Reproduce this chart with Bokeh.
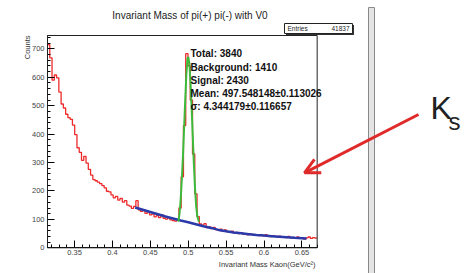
import numpy as np
from bokeh.plotting import figure
from bokeh.models import (Label, Arrow, OpenHead, BoxAnnotation, SingleIntervalTicker,
                          CustomJSTickFormatter)
from bokeh.embed import file_html
from bokeh.resources import INLINE

# ---------------- data ----------------
bin_lo = 0.3144
bin_w = 0.002988
counts = [715, 668, 590, 608, 598, 548, 506, 492, 470, 458,
          452, 432, 398, 352, 336, 308, 322, 298, 276, 256,
          240, 236, 231, 226, 219, 211, 199, 197, 186, 176,
          181, 168, 174, 161, 166, 150, 147, 139, 146, 166,
          134, 128, 133, 121, 126, 116, 119, 109, 113, 106,
          116, 104, 101, 106, 98, 96, 94, 100, 140, 250,
          430, 683, 640, 520, 330, 190, 110, 84, 80, 85,
          71, 74, 68, 72, 64, 61, 66, 58, 63, 57,
          55, 59, 52, 54, 50, 53, 48, 50, 46, 49,
          47, 44, 46, 43, 45, 42, 46, 41, 39, 43,
          40, 38, 41, 37, 39, 36, 40, 35, 37, 34,
          38, 33, 36, 31, 35, 38, 33, 36, 34]

# background fit (blue)
bg_x = [0.430, 0.440, 0.450, 0.460, 0.470, 0.480, 0.490, 0.500, 0.510, 0.520,
        0.530, 0.540, 0.550, 0.560, 0.570, 0.580, 0.590, 0.600, 0.610, 0.620,
        0.630, 0.640, 0.650, 0.656]
bg_y = [142, 134, 126, 118, 110, 103, 96, 90, 83, 76,
        70, 63, 58, 54, 51, 48, 45, 43, 41, 39,
        37, 35, 34, 33]

# signal + background fit (green)
sig_x = [0.4870, 0.4885, 0.4900, 0.4915, 0.4930, 0.4945, 0.4960, 0.4975, 0.4990, 0.5000,
         0.5015, 0.5030, 0.5045, 0.5060, 0.5075, 0.5090, 0.5105, 0.5120, 0.5140]
sig_y = [92, 120, 170, 240, 320, 420, 520, 610, 665, 672,
         650, 580, 490, 390, 290, 205, 145, 110, 92]

x_lo, x_hi = 0.3144, 0.6700   # histogram axis range
y_lo, y_hi = 0, 747

title_text = "Invariant Mass of pi(+) pi(-) with V0"
stats_lines = ["Total: 3840", "Background: 1410", "Signal: 2430",
               "Mean: 497.548148\u00b10.113026", "\u03c3: 4.344179\u00b10.116657"]
entries_label = "Entries"
entries_value = "41837"
x_title = "Invariant Mass Kaon(GeV/c\u00b2)"
y_title = "Counts"

# ---------------- figure: frame covers the whole canvas ----------------
W, H = 466, 273
p = figure(width=W, height=H, output_backend="svg", toolbar_location=None,
           x_range=(0.25241, 0.86694), y_range=(-90.4, 870.2),
           min_border=0)
p.background_fill_color = "white"
p.border_fill_color = "white"
p.outline_line_color = None
p.xgrid.visible = False
p.ygrid.visible = False

FONT = "Liberation Sans"

p.xaxis.fixed_location = y_lo
p.yaxis.fixed_location = x_lo
p.xaxis.bounds = (x_lo, x_hi)
p.yaxis.bounds = (y_lo, y_hi)
p.xaxis.ticker = SingleIntervalTicker(interval=0.05, num_minor_ticks=5)
p.yaxis.ticker = SingleIntervalTicker(interval=100, num_minor_ticks=5)
p.xaxis.formatter = CustomJSTickFormatter(code="return parseFloat(tick.toFixed(3)).toString();")
for ax in (p.xaxis, p.yaxis):
    ax.axis_line_color = "black"
    ax.major_tick_line_color = "black"
    ax.minor_tick_line_color = "black"
    ax.major_tick_in = 7
    ax.major_tick_out = 0
    ax.minor_tick_in = 3
    ax.minor_tick_out = 0
    ax.major_label_text_font = FONT
    ax.major_label_text_font_size = "7.5px"
    ax.major_label_text_color = "#444444"
p.xaxis.major_label_standoff = 2
p.yaxis.major_label_standoff = 3

# frame (top and right edges)
p.add_layout(BoxAnnotation(left=x_lo, right=x_hi, bottom=y_lo, top=y_hi,
                           fill_alpha=0, line_color="#222222", line_width=1, line_alpha=1))

# histogram (red step)
edges = bin_lo + bin_w * np.arange(len(counts) + 1)
p.step(x=edges, y=list(counts) + [counts[-1]], mode="after",
       line_color="#ee2a2a", line_width=1.3)
# fits
p.line(bg_x, bg_y, line_color="#2a3aa8", line_width=2.5)
p.line(sig_x, sig_y, line_color="#3cba3c", line_width=2)

# ---------------- annotations (screen units: x from left, y from bottom) ----------------
def lab(text, x, y, size, align="left", baseline="middle", style="normal", color="#222222", angle=0):
    p.add_layout(Label(x=x, y=y, x_units="screen", y_units="screen", text=text,
                       text_font=FONT, text_font_size=size, text_align=align,
                       text_baseline=baseline, text_font_style=style, text_color=color,
                       angle=angle))

lab(title_text, 189.5, 258, "10px", align="center")
stat_y = [220, 206.5, 193.2, 179.9, 166.6]
for t, yy in zip(stats_lines, stat_y):
    lab(t, 190, yy, "10px", style="bold", color="#111111")

# Entries box (with shadow)
p.add_layout(BoxAnnotation(left=285.5, right=353.5, bottom=238.5, top=248.5,
                           left_units="screen", right_units="screen",
                           bottom_units="screen", top_units="screen",
                           fill_color="#333333", fill_alpha=1, line_alpha=0))
p.add_layout(BoxAnnotation(left=284, right=352, bottom=240, top=250,
                           left_units="screen", right_units="screen",
                           bottom_units="screen", top_units="screen",
                           fill_color="white", fill_alpha=1, line_color="#222222",
                           line_width=1, line_alpha=1))
lab(entries_label, 287, 245, "6.5px")
lab(entries_value, 349, 245, "6.5px", align="right")

lab(y_title, 26.5, 238, "7.5px", align="right", color="#333333", angle=np.pi / 2)
lab(x_title, 315, 9.5, "7.5px", align="right", color="#333333")

# gray separator bar on the right
p.add_layout(BoxAnnotation(left=368, right=374, bottom=-5, top=266,
                           left_units="screen", right_units="screen",
                           bottom_units="screen", top_units="screen",
                           fill_color="#e4e4e4", fill_alpha=1, line_color="#8a8a8a",
                           line_width=1, line_alpha=1))

# K_s label and arrow
lab("K", 430, 166, "32px", baseline="alphabetic", color="#222222")
lab("s", 448, 152, "24px", baseline="alphabetic", color="#222222")
p.add_layout(Arrow(x_start=418, y_start=159, x_end=304, y_end=100.7,
                   start_units="screen", end_units="screen",
                   line_color="#e02a2a", line_width=3,
                   end=OpenHead(size=15, line_color="#e02a2a", line_width=3)))

open("out.html", "w").write(file_html(p, INLINE))
